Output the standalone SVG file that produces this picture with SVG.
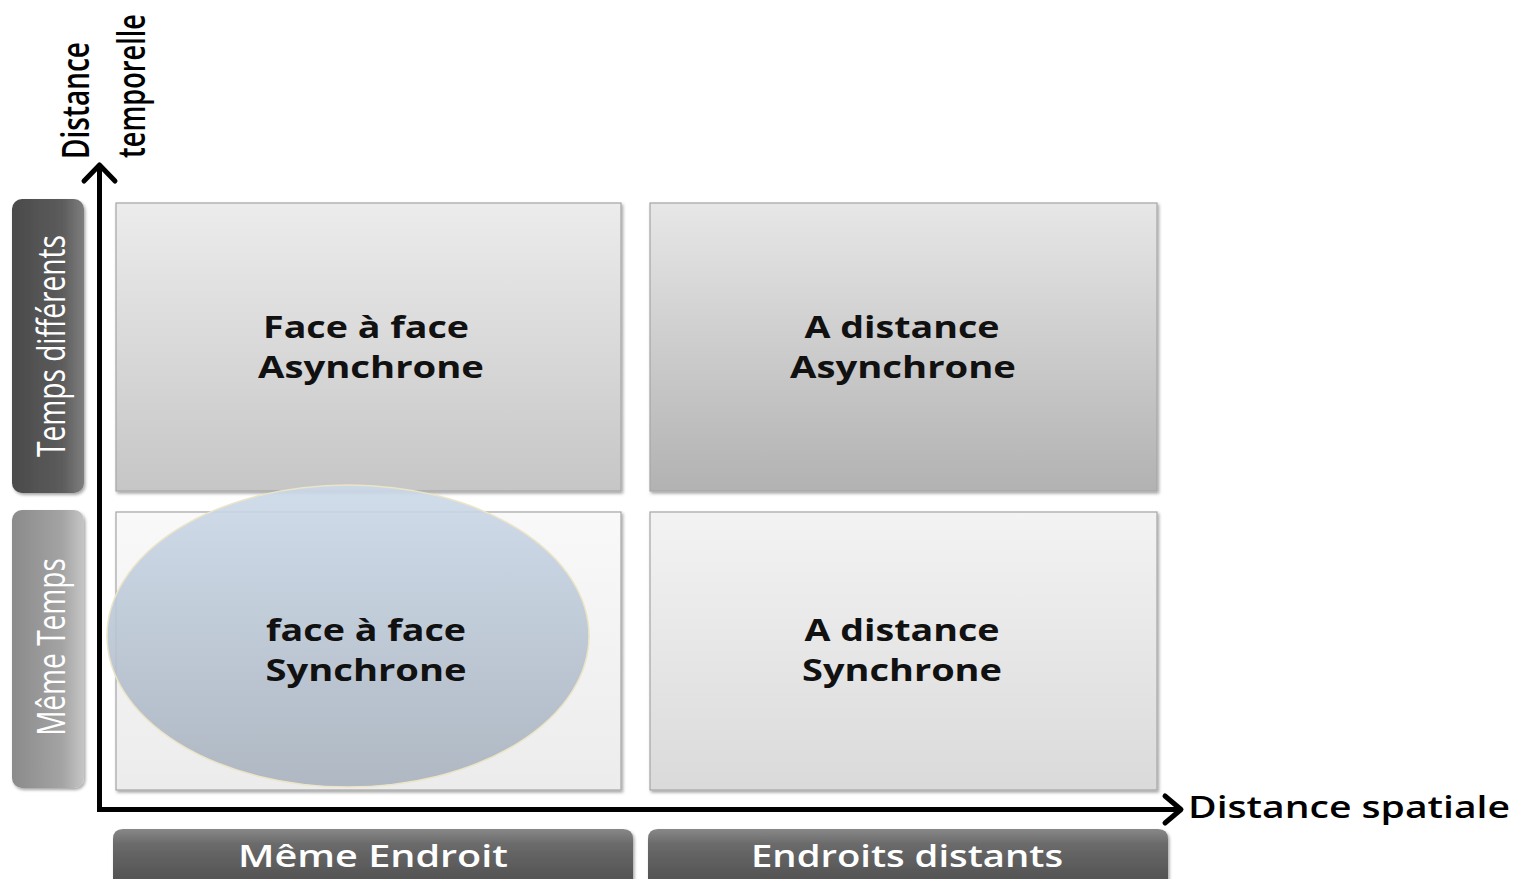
<svg xmlns="http://www.w3.org/2000/svg" width="1529" height="879" viewBox="0 0 1529 879">
  <defs>
    <style>
      .cell { stroke: #a6a6a6; stroke-width: 1.2; filter: url(#shadow); }
      .cell-text { font-family: "Open Sans", "Liberation Sans", sans-serif; font-weight: 700; font-size: 30px; fill: #111; text-anchor: middle; }
      .side-text { font-family: "Open Sans", "Liberation Sans", sans-serif; font-weight: 400; font-size: 38px; fill: #fff; text-anchor: middle; }
      .foot-text { font-family: "Open Sans", "Liberation Sans", sans-serif; font-weight: 600; font-size: 30px; fill: #fff; text-anchor: middle; }
      .axis-text { font-family: "Open Sans", "Liberation Sans", sans-serif; font-weight: 600; fill: #000; }
      .axis { stroke: #000; stroke-width: 5; fill: none; }
      .head { stroke: #000; stroke-width: 5; fill: none; stroke-linecap: round; stroke-linejoin: round; }
    </style>
    <filter id="shadow" x="-5%" y="-5%" width="112%" height="112%">
      <feDropShadow dx="1.5" dy="2" stdDeviation="1.5" flood-color="#000" flood-opacity="0.35"/>
    </filter>
    <linearGradient id="gTL" x1="0" y1="0" x2="0" y2="1">
      <stop offset="0" stop-color="#ececec"/>
      <stop offset="1" stop-color="#c6c6c6"/>
    </linearGradient>
    <linearGradient id="gTR" x1="0" y1="0" x2="0" y2="1">
      <stop offset="0" stop-color="#e7e7e7"/>
      <stop offset="1" stop-color="#b2b2b2"/>
    </linearGradient>
    <linearGradient id="gBL" x1="0" y1="0" x2="0" y2="1">
      <stop offset="0" stop-color="#f9f9f9"/>
      <stop offset="1" stop-color="#ececec"/>
    </linearGradient>
    <linearGradient id="gBR" x1="0" y1="0" x2="0" y2="1">
      <stop offset="0" stop-color="#f3f3f3"/>
      <stop offset="1" stop-color="#dadada"/>
    </linearGradient>
    <linearGradient id="gOval" x1="0" y1="0" x2="0" y2="1">
      <stop offset="0" stop-color="#cbd9e9"/>
      <stop offset="1" stop-color="#a8b2be"/>
    </linearGradient>
    <linearGradient id="gDark" x1="0" y1="0" x2="1" y2="0">
      <stop offset="0" stop-color="#4a4a4a"/>
      <stop offset="0.7" stop-color="#5c5c5c"/>
      <stop offset="1" stop-color="#7e7e7e"/>
    </linearGradient>
    <linearGradient id="gLight" x1="0" y1="0" x2="1" y2="0">
      <stop offset="0" stop-color="#8a8a8a"/>
      <stop offset="0.7" stop-color="#a4a4a4"/>
      <stop offset="1" stop-color="#c6c6c6"/>
    </linearGradient>
    <linearGradient id="gFoot" x1="0" y1="0" x2="0" y2="1">
      <stop offset="0" stop-color="#888"/>
      <stop offset="0.25" stop-color="#6a6a6a"/>
      <stop offset="1" stop-color="#4c4c4c"/>
    </linearGradient>
  </defs>

  <rect width="1529" height="879" fill="#fff"/>

  <!-- quadrant cells -->
  <g id="cell-face-async">
    <rect class="cell" x="116" y="203" width="505" height="288" fill="url(#gTL)"/>
    <text class="cell-text" x="366" y="338" textLength="206" lengthAdjust="spacingAndGlyphs">Face à face</text>
    <text class="cell-text" x="371" y="378" textLength="226" lengthAdjust="spacingAndGlyphs">Asynchrone</text>
  </g>
  <g id="cell-distance-async">
    <rect class="cell" x="650" y="203" width="507" height="288" fill="url(#gTR)"/>
    <text class="cell-text" x="902" y="338" textLength="195" lengthAdjust="spacingAndGlyphs">A distance</text>
    <text class="cell-text" x="903" y="378" textLength="226" lengthAdjust="spacingAndGlyphs">Asynchrone</text>
  </g>
  <g id="cell-face-sync">
    <rect class="cell" x="116" y="512" width="505" height="278" fill="url(#gBL)"/>
  </g>
  <g id="cell-distance-sync">
    <rect class="cell" x="650" y="512" width="507" height="278" fill="url(#gBR)"/>
    <text class="cell-text" x="902" y="641" textLength="195" lengthAdjust="spacingAndGlyphs">A distance</text>
    <text class="cell-text" x="902" y="681" textLength="200" lengthAdjust="spacingAndGlyphs">Synchrone</text>
  </g>

  <!-- highlighted oval over the face-to-face synchronous cell -->
  <g id="highlight-oval">
    <ellipse cx="348" cy="636" rx="241" ry="151" fill="url(#gOval)" fill-opacity="0.9" stroke="#ece4c6" stroke-width="1.5"/>
    <text class="cell-text" x="366" y="641" textLength="200" lengthAdjust="spacingAndGlyphs" fill="#1a2430">face à face</text>
    <text class="cell-text" x="366" y="681" textLength="201" lengthAdjust="spacingAndGlyphs" fill="#1a2430">Synchrone</text>
  </g>

  <!-- row labels -->
  <g id="row-temps-differents">
    <rect x="12" y="199" width="72" height="294" rx="10" fill="url(#gDark)" filter="url(#shadow)"/>
    <text class="side-text" transform="translate(65,346) rotate(-90) scale(0.75,1)" textLength="296" lengthAdjust="spacingAndGlyphs">Temps différents</text>
  </g>
  <g id="row-meme-temps">
    <rect x="12" y="510" width="72" height="278" rx="10" fill="url(#gLight)" filter="url(#shadow)"/>
    <text class="side-text" transform="translate(65,647) rotate(-90) scale(0.75,1)" textLength="237" lengthAdjust="spacingAndGlyphs">Même Temps</text>
  </g>

  <!-- column labels -->
  <g id="col-meme-endroit">
    <path d="M113,890 V839 Q113,829 123,829 H623 Q633,829 633,839 V890 Z" fill="url(#gFoot)" filter="url(#shadow)"/>
    <text class="foot-text" x="373" y="867" textLength="270" lengthAdjust="spacingAndGlyphs">Même Endroit</text>
  </g>
  <g id="col-endroits-distants">
    <path d="M648,890 V839 Q648,829 658,829 H1158 Q1168,829 1168,839 V890 Z" fill="url(#gFoot)" filter="url(#shadow)"/>
    <text class="foot-text" x="907" y="867" textLength="312" lengthAdjust="spacingAndGlyphs">Endroits distants</text>
  </g>

  <!-- axes -->
  <g id="axes">
    <path class="axis" d="M99.5,812 V166"/>
    <path class="axis" d="M97,809.5 H1180"/>
    <polyline class="head" points="84,181 99.5,165 115,181"/>
    <polyline class="head" points="1165,796 1181,809.5 1165,823"/>
  </g>

  <!-- axis titles -->
  <g id="axis-titles">
    <text class="axis-text" font-size="38" transform="translate(89,159) rotate(-90) scale(0.75,1)" textLength="156" lengthAdjust="spacingAndGlyphs">Distance</text>
    <text class="axis-text" font-size="38" transform="translate(145,158) rotate(-90) scale(0.75,1)" textLength="192" lengthAdjust="spacingAndGlyphs">temporelle</text>
    <text class="axis-text" font-size="30" x="1188" y="818" textLength="322" lengthAdjust="spacingAndGlyphs">Distance spatiale</text>
  </g>
</svg>
